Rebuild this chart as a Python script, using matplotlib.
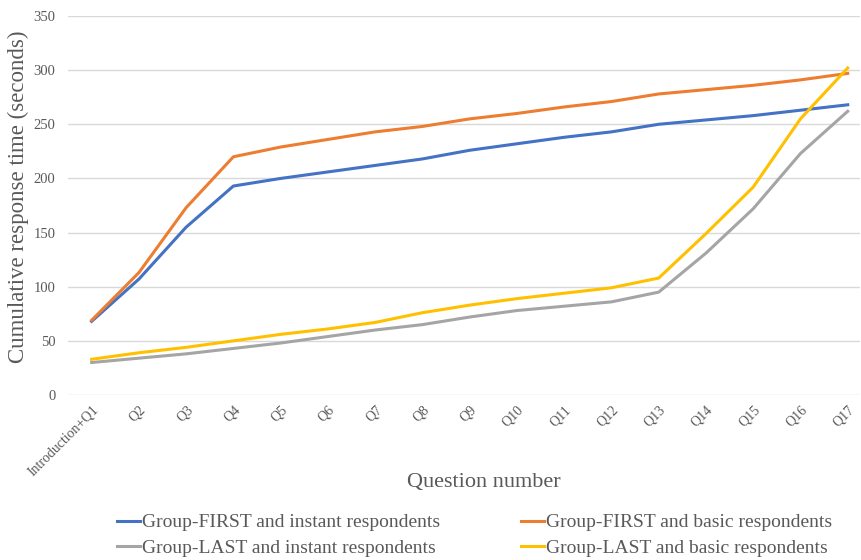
import matplotlib.pyplot as plt

plt.rcParams['font.family'] = ['Liberation Serif', 'DejaVu Serif']

questions = ["Introduction+Q1", "Q2", "Q3", "Q4", "Q5", "Q6", "Q7", "Q8", "Q9",
             "Q10", "Q11", "Q12", "Q13", "Q14", "Q15", "Q16", "Q17"]

first_instant = [68, 107, 155, 193, 200, 206, 212, 218, 226, 232, 238, 243, 250, 254, 258, 263, 268]
first_basic = [69, 113, 173, 220, 229, 236, 243, 248, 255, 260, 266, 271, 278, 282, 286, 291, 297]
last_instant = [30, 34, 38, 43, 48, 54, 60, 65, 72, 78, 82, 86, 95, 131, 172, 223, 262]
last_basic = [33, 39, 44, 50, 56, 61, 67, 76, 83, 89, 94, 99, 108, 149, 192, 255, 302]

text_col = "#595959"

fig = plt.figure(figsize=(8.61, 5.6), dpi=100)
ax = fig.add_axes([68 / 861, 165 / 560, 792 / 861, 379 / 560])

x = range(len(questions))
lb, = ax.plot(x, first_instant, color="#4472C4", lw=2.2, label="Group-FIRST and instant respondents")
lo, = ax.plot(x, first_basic, color="#ED7D31", lw=2.2, label="Group-FIRST and basic respondents")
lg, = ax.plot(x, last_instant, color="#A5A5A5", lw=2.2, label="Group-LAST and instant respondents")
ly, = ax.plot(x, last_basic, color="#FFC000", lw=2.2, label="Group-LAST and basic respondents")

ax.set_xlim(-0.5, 16.26)
ax.set_ylim(0, 350)
ax.set_yticks(range(0, 351, 50))
ax.grid(axis="y", color="#D9D9D9", lw=1)
ax.set_axisbelow(True)
for s in ax.spines.values():
    s.set_visible(False)
ax.tick_params(length=0, colors=text_col, labelsize=10.5)
ax.tick_params(axis="y", pad=9)
ax.tick_params(axis="x", pad=6)

ax.set_xticks(list(x))
ax.set_xticklabels(questions, rotation=45, ha="right", rotation_mode="anchor", fontsize=10)

ax.set_xlabel("Question number", fontsize=16, color=text_col)
ax.xaxis.set_label_coords((484 - 68) / 792, -(473 - 395) / 379)
ax.set_ylabel("Cumulative response time (seconds)", fontsize=16.5, color=text_col)
ax.yaxis.set_label_coords(-(68 - 29) / 792, (395 - 197) / 379)

fig.legend(handles=[lb, lg, lo, ly], ncol=2, loc="center", bbox_to_anchor=(0.551, 0.044),
           frameon=False, fontsize=14, labelcolor=text_col, handlelength=1.2,
           handletextpad=0.1, columnspacing=4.13, labelspacing=0.4)

fig.savefig("out.png", dpi=100)
